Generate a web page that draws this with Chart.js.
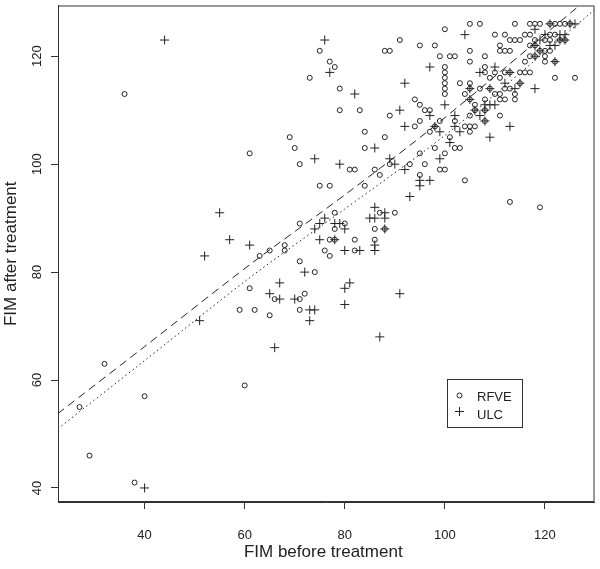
<!DOCTYPE html>
<html>
<head>
<meta charset="utf-8">
<script src="https://cdn.jsdelivr.net/npm/chart.js@4.4.0/dist/chart.umd.min.js"></script>
<style>
body { margin: 0; background: #fff; }
#wrap { width: 600px; height: 569px; }
</style>
</head>
<body>
<div id="wrap"><canvas id="fim-chart" width="600" height="569"></canvas></div>
<script>
// Axis ticks
const xTicks = [40, 60, 80, 100, 120];
const yTicks = [40, 60, 80, 100, 120];

// RFVE group (open circles)
const rfveX = [36, 32, 27, 40, 29, 38, 59, 62, 61, 60, 61,
    75, 77, 78, 73, 79, 79, 83, 69, 70, 71, 81, 82, 84, 84, 88, 89, 94, 94, 88, 89, 91, 86, 87, 89, 93,
    95, 96, 98, 97, 98, 99, 100, 95,
    75, 77, 84, 63, 65, 68, 68, 71, 78, 80, 78, 77, 78, 82, 76, 77, 82, 87, 90, 86, 88, 86, 71, 74, 66, 71, 72, 65, 71,
    104, 113, 119,
    105, 107, 114, 117, 118, 119, 121, 122, 123, 124, 125,
    100,
    110, 112, 116, 117, 121, 122,
    113, 114, 115, 118, 120, 121, 123, 124,
    95, 98, 111, 117, 118,
    105, 111, 112, 113, 119, 120, 121,
    99, 101, 102, 108, 117, 118, 120,
    105, 116, 120, 122,
    100, 108,
    100, 108, 110, 112, 113, 115, 116, 117,
    100, 109, 111, 122, 126,
    100, 103, 105, 115,
    100, 105, 107, 109, 112, 113,
    100, 104, 110, 111, 114,
    105, 108, 111, 112, 114,
    95, 106,
    96, 97, 106, 108,
    105, 111,
    95, 99, 102, 108,
    104, 105, 106,
    105, 101, 102, 103, 100];
const rfveY = [113, 63, 55, 57, 46, 41, 73, 73, 77, 59, 102,
    121, 119, 118, 116, 114, 110, 110, 105, 103, 100, 99, 99, 106, 103, 105, 109, 107, 112, 121, 121, 123, 99, 98, 100, 100,
    102, 100, 103, 106, 107, 99, 99, 98,
    96, 96, 96, 83, 84, 85, 84, 89, 91, 89, 88, 86, 86, 86, 84, 83, 84, 91, 91, 88, 88, 86, 82, 80, 75, 75, 76, 72, 73,
    97, 93, 92,
    126, 126, 126, 126, 126, 126, 126, 126, 126, 126, 126,
    125,
    124, 124, 124, 124, 124, 124,
    123, 123, 123, 123, 123, 123, 123, 123,
    122, 122, 122, 122, 122,
    121, 121, 121, 121, 121, 121, 121,
    120, 120, 120, 120, 120, 120, 120,
    119, 119, 119, 119,
    118, 118,
    117, 117, 117, 117, 117, 117, 117, 117,
    116, 116, 116, 116, 116,
    115, 115, 115, 115,
    114, 114, 114, 114, 114, 114,
    113, 113, 113, 113, 113,
    112, 112, 112, 112, 112,
    111, 111,
    110, 110, 110, 110,
    109, 109,
    108, 108, 108, 108,
    107, 107, 107,
    106, 105, 103, 103, 102];

// ULC group (crosses)
const ulcX = [44, 40, 51, 55, 57, 52, 66, 87,
    76, 77, 82, 74, 79, 86, 91, 92, 92, 89, 90, 92,
    99, 95, 95, 97, 93, 98,
    61, 76, 75, 74, 78, 79, 80, 75, 78, 80, 83, 86, 85, 86, 88, 88, 86, 86, 88,
    72, 67, 65, 67, 70, 80, 81, 80, 73, 74, 73, 91,
    121, 125, 126, 118, 104, 120, 123, 124, 119, 123, 124, 118, 121, 122, 119, 118, 122,
    97, 110, 107, 113, 112, 115, 105, 109, 114, 118, 105, 100, 108, 109, 110, 106, 108,
    97, 102, 107, 108, 102, 113, 99, 103, 109, 101];
const ulcY = [123, 40, 71, 91, 86, 83, 66, 68,
    123, 117, 113, 101, 100, 103, 110, 107, 115, 101, 100, 99,
    101, 97, 96, 97, 94, 107,
    85, 90, 89, 88, 89, 89, 88, 86, 86, 84, 84, 92, 90, 90, 91, 90, 85, 84, 88,
    80, 78, 76, 75, 75, 77, 78, 74, 73, 73, 71, 76,
    126, 126, 126, 125, 124, 124, 124, 124, 123, 123, 123, 122, 122, 122, 121, 120, 119,
    118, 118, 117, 117, 115, 115, 114, 114, 114, 114, 112, 111, 111, 111, 111, 110, 110,
    109, 109, 109, 108, 107, 107, 106, 106, 105, 104];

// Fitted curves
const dashX = [22.7, 40, 61.2, 80, 98.5, 126.9];
const dashY = [53.8, 66.2, 81.5, 94.3, 107.5, 129.4];
const dotX = [22.7, 40, 61.2, 80, 100.5, 129.9];
const dotY = [51.0, 63.6, 79.1, 91.7, 105.7, 128.6];

const toPoints = (xs, ys) => xs.map((x, i) => ({ x: x, y: ys[i] }));

const ink = '#222';
const axisColor = '#333';
const fontFamily = '"Liberation Sans", Arial, sans-serif';

// Box, rotated y labels, axis titles and legend
const decorations = {
    id: 'decorations',
    afterDraw(chart) {
        const ctx = chart.ctx;
        const area = chart.chartArea;
        const yScale = chart.scales.y;
        ctx.save();
        ctx.strokeStyle = axisColor;
        ctx.lineWidth = 1;
        ctx.strokeRect(area.left + 0.5, area.top + 0.5, area.right - area.left - 1, area.bottom - area.top - 1);

        ctx.fillStyle = ink;
        ctx.font = '13px ' + fontFamily;
        ctx.textAlign = 'center';
        ctx.textBaseline = 'middle';
        yTicks.forEach(v => {
            ctx.save();
            ctx.translate(37, yScale.getPixelForValue(v));
            ctx.rotate(-Math.PI / 2);
            ctx.fillText(String(v), 0, 0);
            ctx.restore();
        });

        ctx.font = '17px ' + fontFamily;
        ctx.fillText('FIM before treatment', (area.left + area.right) / 2 - 3, 552);
        ctx.save();
        ctx.translate(11, (area.top + area.bottom) / 2);
        ctx.rotate(-Math.PI / 2);
        ctx.fillText('FIM after treatment', 0, 0);
        ctx.restore();

        // legend box
        ctx.strokeStyle = axisColor;
        ctx.strokeRect(447.5, 379.5, 75, 48);
        ctx.strokeStyle = ink;
        ctx.beginPath();
        ctx.arc(459.5, 395.5, 2.5, 0, Math.PI * 2);
        ctx.stroke();
        ctx.beginPath();
        ctx.moveTo(455, 411.5); ctx.lineTo(464, 411.5);
        ctx.moveTo(459.5, 407); ctx.lineTo(459.5, 416);
        ctx.stroke();
        ctx.font = '13px ' + fontFamily;
        ctx.textAlign = 'left';
        ctx.fillText('RFVE', 477, 397);
        ctx.fillText('ULC', 477, 415);
        ctx.restore();
    }
};

const ctx = document.getElementById('fim-chart').getContext('2d');
const chart = new Chart(ctx, {
    type: 'scatter',
    data: {
        datasets: [{
            label: 'RFVE',
            data: toPoints(rfveX, rfveY),
            pointStyle: 'circle',
            pointRadius: 2.5,
            borderWidth: 1,
            borderColor: ink,
            backgroundColor: 'rgba(0,0,0,0)'
        }, {
            label: 'ULC',
            data: toPoints(ulcX, ulcY),
            pointStyle: 'cross',
            pointRadius: 4.5,
            borderWidth: 1,
            borderColor: ink,
            backgroundColor: ink
        }, {
            label: 'dashed',
            type: 'line',
            data: toPoints(dashX, dashY),
            borderColor: ink,
            borderWidth: 1,
            borderDash: [8, 5],
            pointRadius: 0,
            fill: false,
            tension: 0.3
        }, {
            label: 'dotted',
            type: 'line',
            data: toPoints(dotX, dotY),
            borderColor: ink,
            borderWidth: 1,
            borderDash: [1.5, 3],
            pointRadius: 0,
            fill: false,
            tension: 0.3
        }]
    },
    options: {
        responsive: false,
        animation: false,
        devicePixelRatio: 1,
        layout: { padding: { left: 0, top: 1, right: 2, bottom: 0 } },
        plugins: {
            legend: { display: false },
            tooltip: { enabled: false }
        },
        scales: {
            x: {
                type: 'linear',
                min: 22.7,
                max: 129.9,
                afterBuildTicks: s => { s.ticks = xTicks.map(v => ({ value: v })); },
                afterFit: s => { s.height = 67; },
                grid: { drawOnChartArea: false, drawTicks: true, tickLength: 7, color: axisColor },
                border: { color: axisColor },
                ticks: {
                    color: ink,
                    padding: 19,
                    maxRotation: 0,
                    font: { size: 13, family: fontFamily }
                }
            },
            y: {
                type: 'linear',
                min: 37.4,
                max: 129.4,
                afterBuildTicks: s => { s.ticks = yTicks.map(v => ({ value: v })); },
                afterFit: s => { s.width = 58; },
                grid: { drawOnChartArea: false, drawTicks: true, tickLength: 7, color: axisColor },
                border: { color: axisColor },
                ticks: { display: false }
            }
        }
    },
    plugins: [decorations]
});
</script>
</body>
</html>
